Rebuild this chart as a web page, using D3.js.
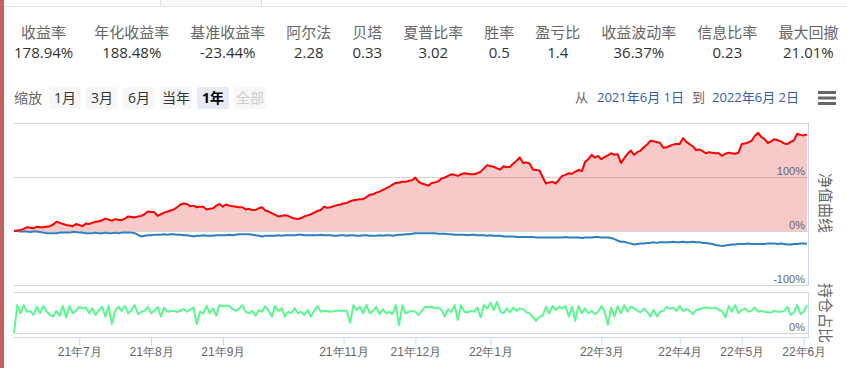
<!DOCTYPE html>
<html><head><meta charset="utf-8">
<script src="https://cdn.jsdelivr.net/npm/d3@7"></script>
<style>
html,body{margin:0;padding:0;background:#fff;}
svg{display:block;font-family:"Open Sans","Noto Sans CJK SC",sans-serif;}
</style></head><body>
<svg id="c" width="847" height="368"></svg>
<script>
const statLabels = ["收益率","年化收益率","基准收益率","阿尔法","贝塔","夏普比率","胜率","盈亏比","收益波动率","信息比率","最大回撤"];
const statValues = ["178.94%","188.48%","-23.44%","2.28","0.33","3.02","0.5","1.4","36.37%","0.23","21.01%"];
const zoomLabel = "缩放";
const zoomButtons = ["1月","3月","6月","当年","1年","全部"];
const selectedButton = "1年";
const disabledButton = "全部";
const rangeWords = ["从","到"];
const rangeDates = ["2021年6月 1日","2022年6月 2日"];
const axisTitles = ["净值曲线","持仓占比"];

// strategy net value curve (%), one value per trading day
const navValues = [
0,1,2,4,7,6,5,8,7,7,
8,9,12,17,15,13,11,10,9,13,
11,9,14,13,15,17,18,20,23,21,
19,22,21,20,23,27,26,25,27,28,
31,36,35,35,28,31,34,36,38,40,
44,49,51,50,46,47,44,45,45,40,
41,42,47,50,45,49,47,46,45,44,
44,40,41,39,39,42,44,38,36,33,
30,27,28,29,28,25,23,22,24,27,
29,31,34,37,39,45,43,44,46,48,
49,51,52,55,57,58,59,59,63,67,
68,71,73,76,79,82,86,89,90,91,
91,93,94,99,91,88,86,84,89,90,
92,97,99,102,105,104,102,105,107,106,
105,105,107,110,116,122,120,119,116,114,
120,118,119,125,130,136,126,127,125,114,
113,112,100,88,90,91,88,95,102,104,
107,106,110,113,111,128,133,141,136,139,
133,137,140,144,141,142,126,135,143,149,
141,146,149,155,160,167,166,165,163,154,
155,158,160,161,161,172,165,161,157,150,
151,148,144,146,145,144,144,139,143,145,
144,143,145,161,162,164,167,176,182,174,
170,163,166,170,168,166,162,161,165,168,
180,178,177,178.94];

// benchmark curve (%)
const benchValues = [
0,0,-1,-1,-1,-2,-1,-1,-2,-3,
-4,-4,-4,-4,-3,-3,-3,-3,-2,-2,
-3,-3,-4,-4,-4,-3,-4,-4,-3,-4,
-4,-3,-4,-3,-3,-3,-3,-4,-7,-10,
-9,-8,-8,-7,-7,-7,-6,-7,-6,-6,
-7,-7,-8,-8,-9,-10,-9,-9,-8,-9,
-9,-9,-8,-8,-8,-8,-7,-8,-7,-6,
-6,-6,-6,-7,-8,-9,-10,-9,-9,-9,
-9,-8,-9,-8,-8,-8,-8,-7,-7,-8,
-8,-8,-8,-8,-7,-8,-8,-8,-9,-9,
-8,-8,-9,-8,-8,-9,-9,-8,-8,-9,
-9,-9,-8,-9,-8,-8,-9,-8,-7,-7,
-6,-6,-5,-4,-4,-4,-4,-4,-4,-4,
-5,-5,-5,-6,-6,-7,-7,-7,-7,-8,
-7,-7,-8,-8,-8,-9,-8,-9,-9,-9,
-10,-10,-10,-10,-11,-11,-11,-11,-11,-11,
-12,-12,-12,-12,-12,-12,-12,-12,-12,-11,
-12,-12,-12,-12,-13,-12,-12,-12,-11,-11,
-12,-12,-12,-13,-15,-18,-20,-20,-22,-23,
-25,-24,-23,-23,-22,-22,-21,-22,-21,-21,
-21,-21,-20,-21,-21,-20,-21,-21,-20,-21,
-21,-22,-22,-23,-24,-26,-27,-28,-27,-26,
-25,-25,-24,-24,-24,-23,-24,-24,-24,-24,
-24,-23,-23,-23,-24,-23,-24,-25,-25,-24,
-24,-23,-23,-23.44];

// position ratio (%)
const positionValues = [
0,68,48,68,52,53,44,64,48,66,
52,44,40,54,42,66,38,66,48,54,
64,60,62,48,60,44,56,64,40,66,
22,54,64,54,66,48,56,68,46,52,
54,64,48,54,64,40,62,52,53,54,
51,55,58,52,57,62,22,52,48,66,
48,60,42,68,66,67,66,58,54,60,
68,52,48,54,42,56,52,66,54,40,
66,54,60,40,52,48,60,48,52,44,
56,40,54,66,52,54,53,52,53,54,
54,54,54,25,68,56,64,48,68,48,
54,64,46,58,48,52,46,68,19,68,
48,52,54,52,44,54,64,62,64,60,
62,56,40,58,51,68,32,68,52,50,
54,52,62,38,68,60,74,56,76,52,
48,60,50,62,54,60,58,51,48,38,
30,40,42,64,48,66,56,64,60,66,
40,64,30,66,48,60,48,54,46,52,
66,52,20,62,40,66,48,68,52,64,
60,55,50,60,52,40,56,40,52,54,
64,59,62,54,66,54,58,54,46,56,
58,61,62,61,60,62,56,54,38,66,
52,68,48,56,60,52,54,62,52,54,
52,50,50,54,52,52,54,64,44,50,
68,46,52,68];

// x-axis ticks: trading-day index of each month start
const tickIndex = [20,42,64,101,123,146,180,204,223,242];
const tickLabels = ["21年7月","21年8月","21年9月","21年11月","21年12月","22年1月","22年3月","22年4月","22年5月","22年6月"];
const navTicks = [-100,0,100];
const navGrid = [-100,0,100,200];
const posTicks = [0];
const posGrid = [0,100];

const svg = d3.select("#c");
const W = 847, H = 368;

// top strip
svg.append("rect").attr("x",160.5).attr("y",-1).attr("width",101).attr("height",7.5)
  .attr("fill","#f7f8fa").attr("stroke","#e0e0e0");
svg.append("line").attr("x1",4).attr("x2",W).attr("y1",6.5).attr("y2",6.5).attr("stroke","#e3e3e3");

// stats row
let cx = 14;
statLabels.forEach((lab,i)=>{
  const t1 = svg.append("text").attr("y",38).attr("font-size",15).attr("fill","#666").attr("text-anchor","middle").text(lab);
  const t2 = svg.append("text").attr("y",58).attr("font-size",15).attr("fill","#333").attr("text-anchor","middle").text(statValues[i]);
  const w = Math.max(t1.node().getComputedTextLength(), t2.node().getComputedTextLength());
  t1.attr("x", cx + w/2); t2.attr("x", cx + w/2);
  cx += w + 21;
});

// range selector
svg.append("text").attr("x",14).attr("y",103).attr("font-size",14).attr("fill","#666").text(zoomLabel);
zoomButtons.forEach((b,i)=>{
  const bx = 49 + i*37;
  const sel = b===selectedButton, dis = b===disabledButton;
  svg.append("rect").attr("x",bx).attr("y",87).attr("width",32).attr("height",22).attr("rx",2)
    .attr("fill", sel ? "#e6ebf5" : "#f7f7f7");
  svg.append("text").attr("x",bx+16).attr("y",103).attr("text-anchor","middle").attr("font-size",14)
    .attr("font-weight", sel ? "bold" : "normal")
    .attr("fill", sel ? "#000" : dis ? "#cccccc" : "#333").text(b);
});
svg.append("text").attr("x",575).attr("y",102).attr("font-size",13).attr("fill","#666").text(rangeWords[0]);
svg.append("text").attr("x",597).attr("y",102).attr("font-size",13).attr("fill","#335cad").text(rangeDates[0]);
svg.append("text").attr("x",692).attr("y",102).attr("font-size",13).attr("fill","#666").text(rangeWords[1]);
svg.append("text").attr("x",712).attr("y",102).attr("font-size",13).attr("fill","#335cad").text(rangeDates[1]);
[0,1,2].forEach(k=>{
  svg.append("rect").attr("x",818).attr("y",91+k*5.5).attr("width",18).attr("height",3).attr("fill","#666");
});

// scales
const N = navValues.length;
const x = d3.scaleLinear().domain([0, N-1]).range([14, 807]);
const y = d3.scaleLinear().domain([-100, 200]).range([285, 123]);
const y2 = d3.scaleLinear().domain([0, 100]).range([333, 292]);
const L = 14, R = 808;

// grids
navGrid.forEach(v=>{
  svg.append("line").attr("x1",L).attr("x2",R).attr("y1",Math.round(y(v))+0.5).attr("y2",Math.round(y(v))+0.5)
    .attr("stroke","#d4d4d4");
});
posGrid.forEach(v=>{
  svg.append("line").attr("x1",L).attr("x2",R).attr("y1",Math.round(y2(v))+0.5).attr("y2",Math.round(y2(v))+0.5)
    .attr("stroke","#d4d4d4");
});

// area + lines
const idx = d3.range(N);
svg.append("path").datum(idx)
  .attr("d", d3.area().x(i=>x(i)).y0(y(0)).y1(i=>y(navValues[i])))
  .attr("fill","rgba(232,90,90,0.33)");
svg.append("path").datum(idx)
  .attr("d", d3.line().x(i=>x(i)).y(i=>y(benchValues[i])))
  .attr("fill","none").attr("stroke","#2f7ec1").attr("stroke-width",2).attr("stroke-linejoin","round");
svg.append("path").datum(idx)
  .attr("d", d3.line().x(i=>x(i)).y(i=>y(navValues[i])))
  .attr("fill","none").attr("stroke","#ff0000").attr("stroke-width",2).attr("stroke-linejoin","round");
svg.append("path").datum(idx)
  .attr("d", d3.line().x(i=>x(i)).y(i=>y2(positionValues[i])))
  .attr("fill","none").attr("stroke","#5cf78f").attr("stroke-width",2).attr("stroke-linejoin","round");

// right borders
svg.append("line").attr("x1",R+0.5).attr("x2",R+0.5).attr("y1",122).attr("y2",286).attr("stroke","#ccd6eb");
svg.append("line").attr("x1",R+0.5).attr("x2",R+0.5).attr("y1",292).attr("y2",337).attr("stroke","#ccd6eb");

// y axis labels (inside, right)
const ya = svg.append("g").attr("transform",`translate(805,0)`)
  .call(d3.axisLeft(y).tickValues(navTicks).tickFormat(d=>d+"%").tickSize(0));
ya.select(".domain").remove();
ya.selectAll("text").attr("x",0).attr("dy",null).attr("y",-3).attr("text-anchor","end")
  .attr("font-size",11).attr("fill","#666").attr("font-family",null);
const ya2 = svg.append("g").attr("transform",`translate(805,0)`)
  .call(d3.axisLeft(y2).tickValues(posTicks).tickFormat(d=>d+"%").tickSize(0));
ya2.select(".domain").remove();
ya2.selectAll("text").attr("x",0).attr("dy",null).attr("y",-3).attr("text-anchor","end")
  .attr("font-size",11).attr("fill","#666").attr("font-family",null);

// x axis
const xa = svg.append("g").attr("transform","translate(0,337.5)")
  .call(d3.axisBottom(x).tickValues(tickIndex).tickFormat((d,i)=>tickLabels[i]).tickSize(8).tickSizeOuter(0));
xa.select(".domain").attr("stroke","#ccd6eb").attr("d",`M${L},0H${R+1}`);
xa.selectAll(".tick line").attr("stroke","#ccd6eb");
xa.selectAll("text").attr("dy",null).attr("y",18).attr("font-size",12).attr("fill","#666").attr("font-family",null);

// axis titles
svg.append("text").attr("transform","translate(820,203) rotate(90)").attr("text-anchor","middle")
  .attr("font-size",15).attr("fill","#666").text(axisTitles[0]);
svg.append("text").attr("transform","translate(820,313) rotate(90)").attr("text-anchor","middle")
  .attr("font-size",15).attr("fill","#666").text(axisTitles[1]);

// left stripe
svg.append("rect").attr("x",0).attr("y",0).attr("width",4).attr("height",H).attr("fill","#c46060");
</script></body></html>
